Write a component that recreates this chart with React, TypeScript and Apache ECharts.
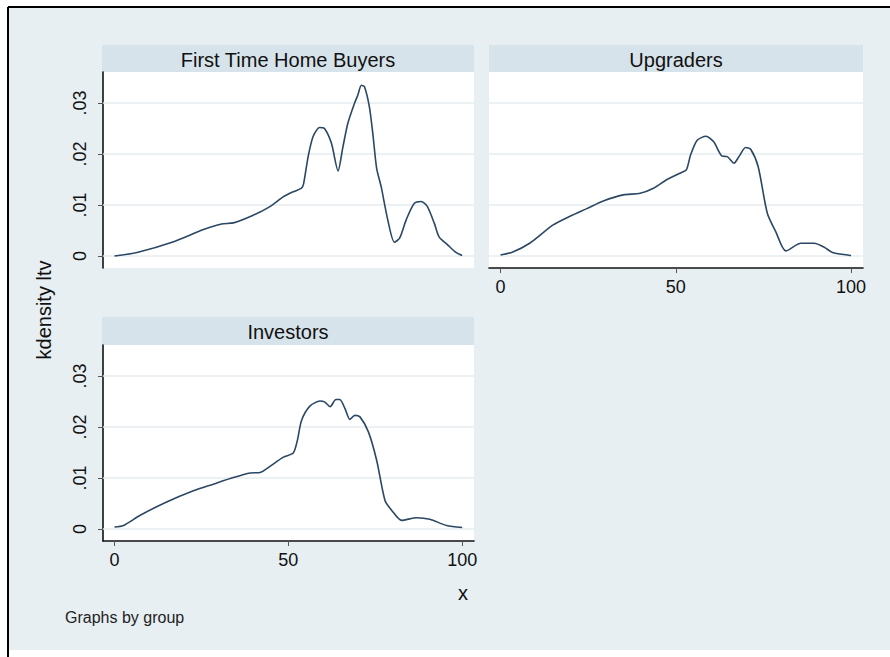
import React, { useEffect, useRef } from "react";
import * as echarts from "echarts";

const panelTitles = ["First Time Home Buyers", "Upgraders", "Investors"];
const yTickValues = [0, 0.01, 0.02, 0.03];
const yTickLabels = ["0", ".01", ".02", ".03"];
const xTickValues = [0, 50, 100];
const yAxisTitle = "kdensity ltv";
const xAxisTitle = "x";
const noteText = "Graphs by group";

const firstTimeX = [0, 6.5, 17, 25.6, 30.8, 34.2, 39.9, 44.7, 48.5, 51.4, 53.8, 54.4, 55.7, 57.1, 59, 60.4, 62.4, 64.3, 65.7, 67.1, 69, 70, 71, 71.9, 73.3, 74.3, 75.4, 76.7, 78.6, 80.5, 82, 83.9, 86.2, 88.2, 90, 92, 93.4, 95.8, 98.2, 100];
const firstTimeY = [0, 0.0007, 0.0028, 0.0052, 0.0063, 0.0065, 0.008, 0.0097, 0.0116, 0.0126, 0.0133, 0.0142, 0.0195, 0.0234, 0.0252, 0.025, 0.0221, 0.0167, 0.0214, 0.026, 0.0299, 0.0316, 0.0335, 0.0332, 0.0293, 0.024, 0.0172, 0.0136, 0.0071, 0.0027, 0.0035, 0.0071, 0.0103, 0.0107, 0.0097, 0.0064, 0.0037, 0.0022, 0.0007, 0.0001];

const upgradersX = [0, 3.5, 8.3, 15, 19.8, 24.6, 29.3, 35, 39.8, 43.6, 47.5, 51.3, 53, 54.2, 56.1, 58.6, 60.8, 63.2, 64.7, 66.6, 68, 69.9, 71.4, 73.5, 76.1, 78.5, 81.4, 85.7, 89.5, 92.4, 94.7, 100];
const upgradersY = [0.0002, 0.0008, 0.0025, 0.0061, 0.0078, 0.0093, 0.0108, 0.012, 0.0123, 0.0133, 0.015, 0.0163, 0.0169, 0.0198, 0.0227, 0.0235, 0.0224, 0.0196, 0.0195, 0.0182, 0.0195, 0.0213, 0.0209, 0.0175, 0.0084, 0.0048, 0.001, 0.0025, 0.0025, 0.0017, 0.0007, 0.0001];

const investorsX = [0, 2.6, 7.4, 15, 22.7, 28.4, 34.2, 39, 41.9, 44.7, 48.6, 51.4, 52.6, 53.8, 56.2, 59.1, 60.5, 62, 63.7, 64.8, 66.3, 67.7, 69.1, 70.6, 73, 75.4, 77.8, 79.7, 82.6, 86.9, 90.7, 95.5, 100];
const investorsY = [0.0004, 0.0007, 0.0027, 0.0053, 0.0075, 0.0088, 0.0101, 0.011, 0.0111, 0.0123, 0.0141, 0.0149, 0.0174, 0.0213, 0.0241, 0.0251, 0.0249, 0.024, 0.0254, 0.0254, 0.0236, 0.0215, 0.0223, 0.022, 0.0191, 0.0135, 0.0056, 0.0037, 0.0017, 0.0022, 0.0019, 0.0007, 0.0003];

const FONT = "'Liberation Sans', Arial, Helvetica, sans-serif";
const LINE_COLOR = "#2a4763";
const STRIP_COLOR = "#d7e3ea";
const BG_COLOR = "#e7eff2";
const GRID_COLOR = "#e6edf1";

const zip = (xs: number[], ys: number[]) => xs.map((x, i) => [x, ys[i]]);

const yLabel = (v: number) => {
  const i = yTickValues.findIndex((t) => Math.abs(t - v) < 1e-9);
  return i >= 0 ? yTickLabels[i] : "";
};

export default function App() {
  const ref = useRef<HTMLDivElement>(null);
  useEffect(() => {
    if (!ref.current) return;
    const chart = echarts.init(ref.current, undefined, { renderer: "svg" });

    const grids = [
      { left: 103, top: 72, width: 371, height: 196 },
      { left: 489, top: 72, width: 374, height: 196 },
      { left: 103, top: 345, width: 371, height: 196 },
    ];
    const strips = [
      { x: 102, y: 45, w: 372, h: 27 },
      { x: 489, y: 45, w: 374, h: 27 },
      { x: 102, y: 317, w: 372, h: 28 },
    ];
    const showX = [false, true, true];
    const showY = [true, false, true];
    const datasets = [zip(firstTimeX, firstTimeY), zip(upgradersX, upgradersY), zip(investorsX, investorsY)];

    const option: any = {
      animation: false,
      backgroundColor: "#ffffff",
      textStyle: { fontFamily: FONT },
      grid: grids.map((g) => ({ ...g, show: true, backgroundColor: "#ffffff", borderWidth: 0, containLabel: false })),
      xAxis: grids.map((_, i) => ({
        type: "value",
        gridIndex: i,
        min: -3.3,
        max: 103.4,
        show: showX[i],
        axisLine: { show: true, onZero: false, lineStyle: { color: "#111", width: 1.6 } },
        axisTick: { show: true, customValues: xTickValues, length: 5, lineStyle: { color: "#555", width: 1 } },
        axisLabel: { customValues: xTickValues, color: "#111", fontSize: 18, fontFamily: FONT, margin: 10 },
        splitLine: { show: false },
      })),
      yAxis: grids.map((_, i) => ({
        type: "value",
        gridIndex: i,
        min: -0.00235,
        max: 0.0361,
        show: showY[i],
        axisLine: { show: true, onZero: false, lineStyle: { color: "#111", width: 1.6 } },
        axisTick: { show: true, customValues: yTickValues, length: 5, lineStyle: { color: "#555", width: 1 } },
        axisLabel: { customValues: yTickValues, rotate: 90, formatter: yLabel, color: "#111", fontSize: 18, fontFamily: FONT, margin: 14 },
        splitLine: { show: false },
      })),
      series: datasets.map((d, i) => ({
        type: "line",
        xAxisIndex: i,
        yAxisIndex: i,
        data: d,
        showSymbol: false,
        smooth: 0.25,
        z: 3,
        lineStyle: { color: LINE_COLOR, width: 1.6 },
        markLine: {
          silent: true,
          symbol: "none",
          z: 1,
          label: { show: false },
          lineStyle: { color: GRID_COLOR, width: 1.5, type: "solid" },
          data: yTickValues.map((v) => ({ yAxis: v })),
        },
      })),
      graphic: [
        { type: "rect", z: -10, shape: { x: 8, y: 7, width: 890, height: 643 }, style: { fill: BG_COLOR } },
        { type: "line", z: 10, shape: { x1: 8, y1: 7, x2: 890, y2: 7 }, style: { stroke: "#000", lineWidth: 2 } },
        { type: "line", z: 10, shape: { x1: 8, y1: 7, x2: 8, y2: 657 }, style: { stroke: "#000", lineWidth: 2 } },
        ...strips.map((s) => ({ type: "rect", z: -5, shape: { x: s.x, y: s.y, width: s.w, height: s.h }, style: { fill: STRIP_COLOR } })),
        ...strips.map((s, i) => ({
          type: "text",
          z: 10,
          x: s.x + s.w / 2,
          y: s.y + s.h / 2 + 1,
          style: { text: panelTitles[i], fill: "#111", font: `20px ${FONT}`, align: "center", verticalAlign: "middle" },
        })),
        {
          type: "text",
          z: 10,
          x: 44,
          y: 310,
          rotation: Math.PI / 2,
          style: { text: yAxisTitle, fill: "#111", font: `20px ${FONT}`, align: "center", verticalAlign: "middle" },
        },
        {
          type: "text",
          z: 10,
          x: 463,
          y: 593,
          style: { text: xAxisTitle, fill: "#111", font: `20px ${FONT}`, align: "center", verticalAlign: "middle" },
        },
        {
          type: "text",
          z: 10,
          x: 65,
          y: 617,
          style: { text: noteText, fill: "#222", font: `16px ${FONT}`, align: "left", verticalAlign: "middle" },
        },
      ],
    };
    chart.setOption(option);
    return () => chart.dispose();
  }, []);
  return <div ref={ref} style={{ position: "fixed", left: 0, top: 0, width: 890, height: 657 }} />;
}
